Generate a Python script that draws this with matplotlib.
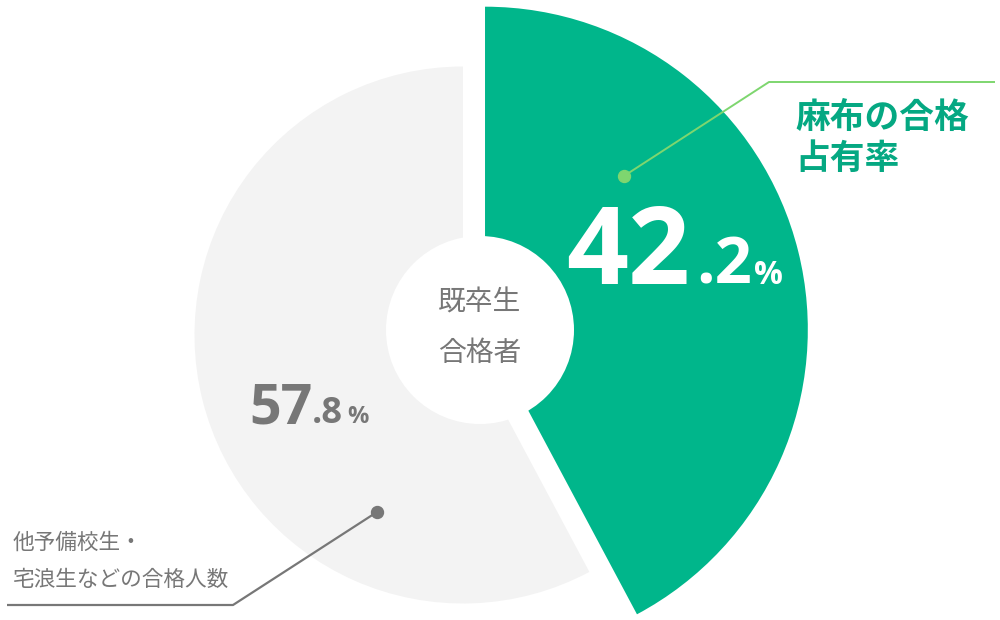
import matplotlib
matplotlib.use('Agg')
import matplotlib.pyplot as plt
from matplotlib.patches import Circle

plt.rcParams['font.family'] = ['Noto Sans CJK JP', 'DejaVu Sans']

# ---- data ----
categories = ['麻布の合格\n占有率', '他予備校生・\n宅浪生などの合格人数']
shares = [42.2, 57.8]
center_label = ['既卒生', '合格者']

GREEN = '#00B68B'
GRAY = '#F3F3F3'
TXT_GRAY = '#777777'
LABEL_GREEN = '#05A882'
LEADER_GREEN = '#7ED66F'

W, H = 1000, 620
fig = plt.figure(figsize=(10, 6.2), dpi=100)
ax = fig.add_axes([0, 0, 1, 1])


def Y(y):
    return H - y


gray_center = (463, Y(335))
gray_r = 268.5
green_r = 322.8
explode_px = 22.7

# gray (smaller) slice
ax.pie(shares, colors=['none', GRAY], radius=gray_r, center=gray_center,
       startangle=90, counterclock=False, wedgeprops=dict(linewidth=0))
# green (larger, exploded) slice
ax.pie(shares, colors=[GREEN, 'none'], radius=green_r, center=gray_center,
       explode=[explode_px, 0], startangle=90, counterclock=False,
       wedgeprops=dict(linewidth=0))

# hole
ax.add_patch(Circle((480, Y(330)), 94, facecolor='white', edgecolor='none', zorder=3))

ax.set_xlim(0, W)
ax.set_ylim(0, H)
ax.set_aspect('auto')
ax.axis('off')

# center text
for i, line in enumerate(center_label):
    ax.text(480, Y(302.5 + 50 * i), line, ha='center', va='center',
            fontsize=20, color=TXT_GRAY, zorder=4)

# green label + leader
ax.plot([624, 769, 995], [Y(176), Y(82), Y(82)], color=LEADER_GREEN, lw=1.4,
        solid_capstyle='butt', zorder=4)
ax.plot([624], [Y(176)], 'o', ms=8.6, color=LEADER_GREEN, zorder=5)
for i, line in enumerate(categories[0].split('\n')):
    ax.text(795, Y(117 + 41 * i), line, ha='left', va='center', fontsize=25,
            fontweight='bold', color=LABEL_GREEN, zorder=4)

# gray label + leader
ax.plot([377, 233, 7], [Y(512), Y(605), Y(605)], color=TXT_GRAY, lw=1.6,
        solid_capstyle='butt', zorder=4)
ax.plot([377], [Y(512)], 'o', ms=8.6, color=TXT_GRAY, zorder=5)
for i, line in enumerate(categories[1].split('\n')):
    ax.text(13, Y(543 + 37 * i), line, ha='left', va='center', fontsize=15.6,
            color=TXT_GRAY, zorder=4)

# percentages (pieces: integer part, decimal part, percent sign)
NUMFONT = ['Open Sans', 'DejaVu Sans']


def pct_parts(v):
    s = f"{v:.1f}"
    a, b = s.split('.')
    return [a, '.' + b, '%']


def place(xs, baseline, parts, sizes, color):
    for x, part, size in zip(xs, parts, sizes):
        ax.text(x, Y(baseline), part, ha='left', va='baseline', fontsize=size,
                fontweight='bold', color=color, family=NUMFONT, zorder=4)


place([566, 696, 754], 284, pct_parts(shares[0]), [78, 47, 23], 'white')
place([249, 312, 347], 423, pct_parts(shares[1]), [40, 26, 17], TXT_GRAY)

fig.savefig('out.png', dpi=100, facecolor='white')
